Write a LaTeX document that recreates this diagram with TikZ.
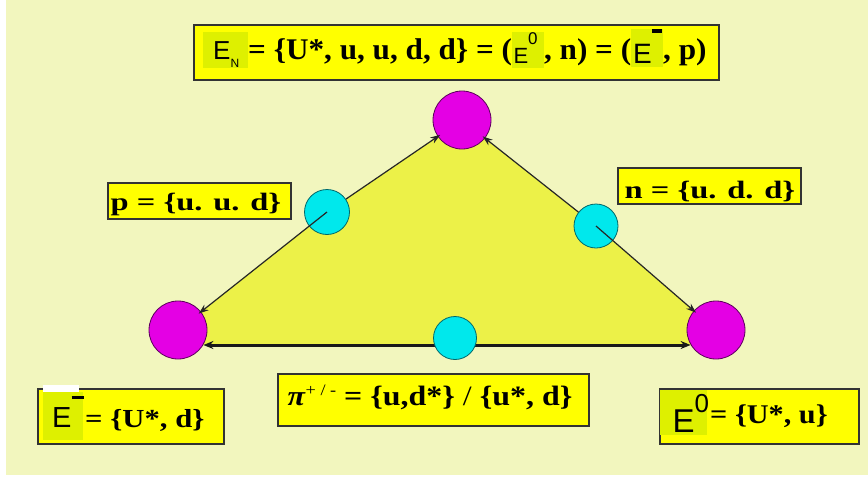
\documentclass[tikz,border=0pt]{standalone}
\usepackage{fontspec}
\setmainfont{Liberation Serif}
\newfontfamily\arialf{Liberation Sans}
\usetikzlibrary{arrows.meta}
\definecolor{bgc}{RGB}{242,246,190}
\definecolor{boxc}{RGB}{255,255,0}
\definecolor{patchc}{RGB}{222,240,0}
\definecolor{trifill}{RGB}{236,241,72}
\definecolor{magc}{RGB}{228,0,228}
\definecolor{cyanc}{RGB}{0,232,236}
\newcommand\fs[1]{\fontsize{#1}{#1}\selectfont}
% patch: #1 depth, #2 total height, #3 width, #4 content
\newcommand\ptch[4]{{\setlength\fboxsep{0pt}\colorbox{patchc}{\rule[-#1]{0pt}{#2}\makebox[#3][l]{#4}}}}
\tikzset{
  lbox/.style={draw=black!80, line width=1.5pt, fill=boxc, inner sep=0pt, anchor=north west},
  txt/.style={inner sep=0pt, anchor=base west},
  mag/.style={circle, draw=black!60!magc, line width=0.8pt, fill=magc, minimum size=58pt, inner sep=0pt},
  cyn/.style={circle, draw=black!55!cyanc, line width=0.8pt, fill=cyanc, minimum size=44pt, inner sep=0pt},
  arr/.style={-{Stealth[length=10pt,width=7pt]}, line width=1.2pt, draw=black!85, shorten >=-3pt},
  barr/.style={-{Stealth[length=10pt,width=8pt]}, line width=3pt, draw=black!90, shorten >=-4pt},
}
\begin{document}
\begin{tikzpicture}[x=1pt,y=-1pt]
\useasboundingbox (0,0) rectangle (868,477);
\fill[white] (0,0) rectangle (868,477);
\fill[bgc] (6,0) rectangle (868,475);

% circle positions
\coordinate (bm) at (455,345);
\coordinate (topc) at (462,120);
\coordinate (lmc) at (178,330);
\coordinate (rmc) at (716,330);
\coordinate (clc) at (327,212);
\coordinate (crc) at (596,226);

% triangle fill
\fill[trifill] (topc) -- (clc) -- (lmc) -- (lmc |- bm) -- (rmc |- bm) -- (rmc) -- (crc) -- cycle;

\node[mag] (top) at (topc) {};
\node[mag] (lm) at (lmc) {};
\node[mag] (rm) at (rmc) {};
% bottom edge
\draw[barr] (bm) -- (bm -| lm.east);
\draw[barr] (bm) -- (bm -| rm.west);
\node[cyn, minimum size=45pt] (cl) at (clc) {};
\node[cyn] (cr) at (crc) {};
\node[cyn, minimum size=43pt] (cb) at (455,338) {};
% diagonal edges
\draw[arr] (cl) -- (top);
\draw[arr] (cl.center) -- (lm);
\draw[arr] (cr) -- (top);
\draw[arr] (cr.center) -- (rm);

% top box
\node[lbox, minimum width=525pt, minimum height=55pt] (topbox) at (193,24) {};
\node[txt, font=\fs{30}\bfseries] (toptext) at (203,59) {%
\ptch{9pt}{36pt}{45pt}{\hspace{10pt}{\arialf\mdseries\fs{26}E}\raisebox{-8pt}{\arialf\mdseries\fs{12}N}}%
\scalebox{1.04}[1]{= \{U*, u, u, d, d\} = (}%
\ptch{9pt}{36pt}{32pt}{\hspace{1.5pt}\raisebox{-4pt}{\arialf\mdseries\fs{22}E}\raisebox{15pt}{\arialf\mdseries\fs{17}0}}%
\scalebox{1.04}[1]{, n) = (}%
\ptch{8pt}{37pt}{32pt}{\hspace{2pt}\raisebox{-4pt}{\arialf\mdseries\fs{28}E}\raisebox{26pt}{\rule{10pt}{4pt}}}%
\scalebox{1.04}[1]{, p)}};

% p box
\node[lbox, minimum width=183pt, minimum height=36pt] (pbox) at (107,182) {};
\node[inner sep=0pt, anchor=base] (ptext) at (196,210) {\scalebox{1.3}[1]{\fs{25}\bfseries p = \{u. u. d\}}};

% n box
\node[lbox, minimum width=183pt, minimum height=36pt] (nbox) at (617,167) {};
\node[inner sep=0pt, anchor=base] (ntext) at (710,198) {\scalebox{1.3}[1]{\fs{25}\bfseries n = \{u. d. d\}}};

% E- box
\node[lbox, minimum width=186pt, minimum height=55pt] (embox) at (37,388) {};
\fill[white] (43,385) rectangle (79,392);
\node[txt] (emtext) at (43,427) {%
\ptch{13pt}{48pt}{40pt}{\hspace{9pt}{\arialf\fs{29}E}\raisebox{28pt}{\rule{12pt}{3.5pt}}}%
\hspace{2pt}\scalebox{1.18}[1]{\fs{26}\bfseries = \{U*, d\}}};

% pi box
\node[lbox, minimum width=311pt, minimum height=52pt] (pibox) at (277,373) {};
\node[inner sep=0pt, anchor=base] (pitext) at (430,405) {\scalebox{1.14}[1]{\fs{28}\bfseries\textit{π}\raisebox{10pt}{\mdseries\fs{16}+ / -} = \{u,d*\} {\mdseries /} \{u*, d\}}};

% E0 box
\node[lbox, minimum width=199pt, minimum height=55pt] (e0box) at (659,388) {};
\node[txt] (e0text) at (660,423) {%
\ptch{12pt}{45pt}{47pt}{\hspace{12.5pt}\raisebox{-9pt}{\arialf\fs{33}E}\raisebox{11pt}{\arialf\fs{26}0}}%
\hspace{3pt}\scalebox{1.12}[1]{\fs{27}\bfseries = \{U*, u\}}};
\end{tikzpicture}
\end{document}
